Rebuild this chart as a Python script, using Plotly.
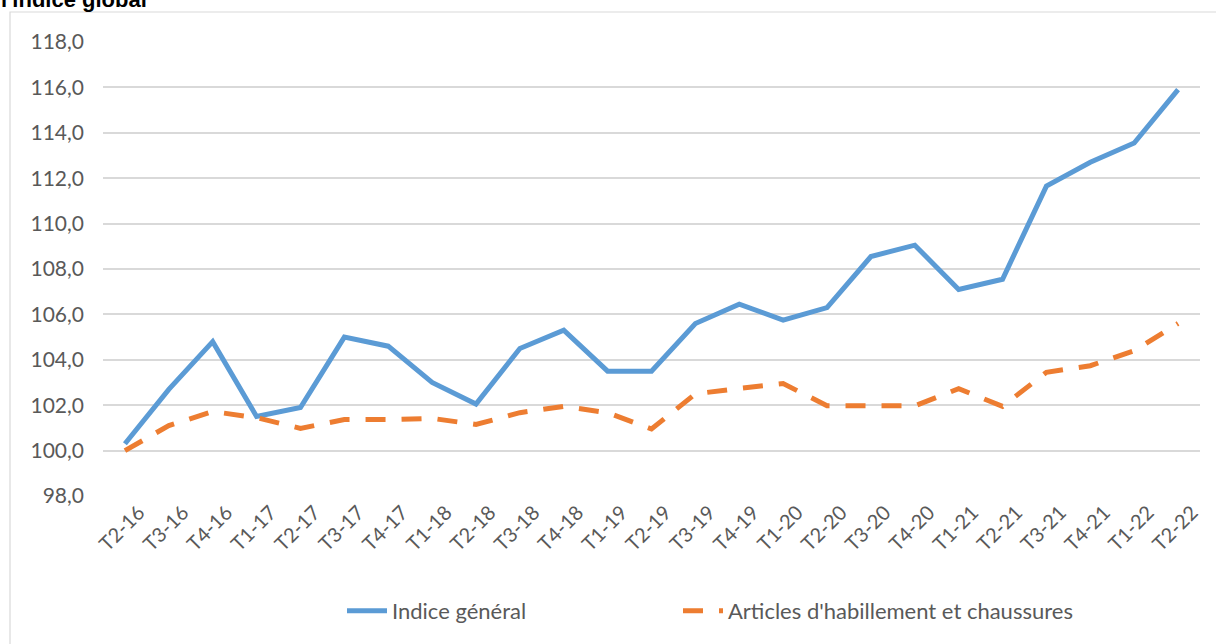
import plotly.graph_objects as go

quarters = ["T2-16", "T3-16", "T4-16", "T1-17", "T2-17", "T3-17", "T4-17", "T1-18", "T2-18",
            "T3-18", "T4-18", "T1-19", "T2-19", "T3-19", "T4-19", "T1-20", "T2-20", "T3-20",
            "T4-20", "T1-21", "T2-21", "T3-21", "T4-21", "T1-22", "T2-22"]
indice_general = [100.3, 102.7, 104.8, 101.5, 101.9, 105.0, 104.6, 103.0, 102.05,
                  104.5, 105.3, 103.5, 103.5, 105.6, 106.45, 105.75, 106.3, 108.55,
                  109.05, 107.1, 107.55, 111.65, 112.7, 113.55, 115.9]
habillement = [100.0, 101.1, 101.72, 101.45, 100.98, 101.37, 101.37, 101.42, 101.15,
               101.67, 101.95, 101.67, 100.95, 102.5, 102.74, 102.95, 101.98, 102.0,
               101.97, 102.73, 101.95, 103.45, 103.74, 104.4, 105.6]

title_text = "l'indice global"
font = "Lato, Calibri, Arial, sans-serif"
grey = "#595959"

# plot area in pixels (Excel style box)
L, R, T, B = 103, 16, 42, 148
W, H = 1216, 644
pw, ph = W - L - R, H - T - B


def px_x(x):
    return (x - L) / pw


def px_y(y):
    return (H - B - y) / ph


fig = go.Figure()
fig.add_trace(go.Scatter(x=quarters, y=indice_general, mode="lines", name="Indice général",
                         line=dict(color="#5B9BD5", width=5), legend="legend"))
fig.add_trace(go.Scatter(x=quarters, y=habillement, mode="lines",
                         name="Articles d'habillement et chaussures",
                         line=dict(color="#ED7D31", width=5, dash="20px,16px"), legend="legend2"))

# chart border (only top and left edges visible in the picture)
fig.add_shape(type="rect", xref="paper", yref="paper",
              x0=px_x(10), x1=px_x(1230), y0=px_y(660), y1=px_y(12),
              line=dict(color="#D9D9D9", width=1.2), layer="below")

fig.add_annotation(text="<b>" + title_text + "</b>", xref="paper", yref="paper",
                   x=px_x(-1), y=px_y(0), xanchor="left", yanchor="middle",
                   showarrow=False,
                   font=dict(family="Liberation Sans, Arial", size=22, color="black"))

legend_style = dict(orientation="h", xanchor="left", yanchor="middle", y=px_y(611),
                    font=dict(size=22, color=grey), itemwidth=40, bgcolor="rgba(0,0,0,0)")

fig.update_layout(
    width=W, height=H,
    margin=dict(l=L, r=R, t=T, b=B),
    paper_bgcolor="white", plot_bgcolor="white",
    separators=", ",
    font=dict(family=font, color=grey, size=20),
    showlegend=True,
    legend=dict(x=px_x(342), **legend_style),
    legend2=dict(x=px_x(678), **legend_style),
    xaxis=dict(type="category", range=[-0.5, len(quarters) - 0.5], tickangle=-45,
               showgrid=False, showline=False, ticks="", tickfont=dict(size=20, color=grey),
               ticklabelshift=14),
    yaxis=dict(range=[98, 118], dtick=2, tickformat=".1f", showgrid=True,
               gridcolor="#D9D9D9", gridwidth=1.5, zeroline=False, showline=False,
               ticks="", tickfont=dict(size=21, color=grey), ticklabelstandoff=18),
)

# the page is photographed from its top-left corner: drop the default body margin
fig.write_html("out.html", config={"displayModeBar": False},
               post_script="document.body.style.margin='0';")
